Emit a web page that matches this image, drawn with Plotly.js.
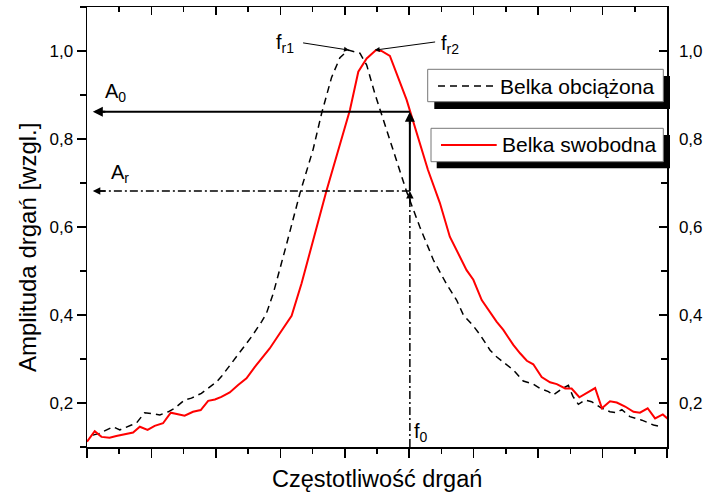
<!DOCTYPE html>
<html>
<head>
<meta charset="utf-8">
<script src="https://cdn.plot.ly/plotly-3.0.1.min.js"></script>
<style>html,body{margin:0;padding:0;background:#fff;}#chart{width:705px;height:494px;}</style>
</head>
<body>
<div id="chart"></div>
<script>
// Belka swobodna (red, solid)
const freeX = [0.00,0.24,0.45,0.70,0.91,1.27,1.43,1.64,1.88,2.10,2.36,2.60,2.83,3.03,3.29,3.53,3.76,3.97,4.17,4.43,4.69,4.95,5.21,5.42,5.67,5.98,6.35,6.66,7.43,8.16,8.42,8.68,8.97,9.14,9.40,9.92,10.58,10.95,11.26,11.78,11.99,12.25,12.71,12.92,13.23,13.44,13.65,13.85,14.11,14.37,14.58,14.84,15.04,15.28,15.77,15.98,16.23,16.44,16.70,16.96,17.16,17.40,17.63,17.87,18.07];
const freeY = [0.112,0.136,0.123,0.121,0.125,0.130,0.133,0.146,0.139,0.148,0.154,0.178,0.174,0.171,0.180,0.184,0.205,0.208,0.214,0.224,0.241,0.256,0.282,0.302,0.324,0.358,0.398,0.472,0.682,0.866,0.953,0.983,1.002,1.000,0.989,0.889,0.730,0.655,0.578,0.502,0.480,0.434,0.385,0.366,0.332,0.313,0.296,0.288,0.259,0.247,0.243,0.233,0.233,0.213,0.234,0.188,0.204,0.201,0.192,0.180,0.178,0.188,0.165,0.174,0.161];
// Belka obciążona (black, dashed)
const loadX = [0.18,0.39,0.81,1.02,1.38,1.53,1.79,2.05,2.26,2.52,2.72,3.03,3.24,3.55,3.76,4.02,4.17,4.48,4.84,5.11,5.42,5.57,5.78,5.98,6.19,6.61,7.02,7.28,7.59,7.85,8.11,8.47,8.68,8.93,9.30,9.61,9.92,10.33,10.75,11.16,11.47,11.68,11.99,12.20,12.51,12.71,13.02,13.23,13.54,13.85,14.06,14.32,14.47,14.73,14.94,15.08,15.25,15.46,15.66,15.98,16.23,16.44,16.60,16.85,17.22,17.58,17.84];
const loadY = [0.127,0.131,0.146,0.139,0.150,0.154,0.178,0.175,0.173,0.180,0.188,0.207,0.211,0.222,0.233,0.248,0.260,0.290,0.324,0.351,0.385,0.404,0.449,0.506,0.560,0.677,0.777,0.858,0.940,0.985,1.002,0.995,0.968,0.904,0.820,0.745,0.680,0.600,0.525,0.470,0.434,0.400,0.375,0.355,0.320,0.305,0.288,0.275,0.250,0.243,0.233,0.226,0.218,0.232,0.240,0.215,0.197,0.207,0.203,0.188,0.180,0.178,0.185,0.169,0.161,0.150,0.146];

const seriesNames = ['Belka obciążona', 'Belka swobodna'];
const yTickVals = [0.2, 0.4, 0.6, 0.8, 1.0];

// marker values for the annotation lines
const f0 = 10.02;      // reference frequency f0
const A0 = 0.862;      // amplitude A0
const Ar = 0.682;      // amplitude Ar
const arrowLeftX = 0.18;
const yMin = 0.1;

const FONT = 'Liberation Sans, Arial, sans-serif';

const traces = [
  {x: loadX, y: loadY, type: 'scatter', mode: 'lines', name: seriesNames[0],
   line: {color: '#000', width: 1.5, dash: '7px,5px'}, showlegend: false, hoverinfo: 'skip'},
  {x: freeX, y: freeY, type: 'scatter', mode: 'lines', name: seriesNames[1],
   line: {color: '#ff0000', width: 2}, showlegend: false, hoverinfo: 'skip'},
  {x: [], y: [], xaxis: 'x2', yaxis: 'y2', type: 'scatter', mode: 'lines', showlegend: false, hoverinfo: 'skip'}
];

function px(x){return (x-87)/580;}
function py(y){return (447-y)/440;}

const shapes = [
  {type:'line', xref:'x', yref:'y', x0:f0, x1:arrowLeftX+0.15, y0:A0, y1:A0, line:{color:'#000', width:2}},
  {type:'line', xref:'x', yref:'y', x0:f0, x1:f0, y0:Ar, y1:A0-0.015, line:{color:'#000', width:2}},
  {type:'line', xref:'x', yref:'y', x0:f0, x1:arrowLeftX+0.15, y0:Ar, y1:Ar, line:{color:'#000', width:1.5, dash:'8px,3px,2px,3px'}},
  {type:'line', xref:'x', yref:'y', x0:f0, x1:f0, y0:yMin, y1:Ar-0.015, line:{color:'#000', width:1.5, dash:'8px,3px,2px,3px'}},
  {type:'rect', xref:'paper', yref:'paper', x0:px(434.3), x1:px(670), y0:py(109), y1:py(76), fillcolor:'#000', line:{width:0}},
  {type:'rect', xref:'paper', yref:'paper', x0:px(427.7), x1:px(663.3), y0:py(101.7), y1:py(69.3), fillcolor:'#fff', line:{color:'#777', width:1}},
  {type:'line', xref:'paper', yref:'paper', x0:px(438), x1:px(493), y0:py(86), y1:py(86), line:{color:'#000', width:1.5, dash:'7px,5px'}},
  {type:'rect', xref:'paper', yref:'paper', x0:px(436.7), x1:px(670), y0:py(168.3), y1:py(135), fillcolor:'#000', line:{width:0}},
  {type:'rect', xref:'paper', yref:'paper', x0:px(431), x1:px(663.3), y0:py(161.7), y1:py(128.3), fillcolor:'#fff', line:{color:'#777', width:1}},
  {type:'line', xref:'paper', yref:'paper', x0:px(441), x1:px(496.7), y0:py(145), y1:py(145), line:{color:'#ff0000', width:2}}
];

const arrowCommon = {text:'', showarrow:true, arrowhead:2, arrowsize:1, arrowcolor:'#000', axref:'pixel', ayref:'pixel'};
const annotations = [
  Object.assign({}, arrowCommon, {xref:'x', yref:'y', x:arrowLeftX, y:A0, ax:14, ay:0, arrowwidth:2}),
  Object.assign({}, arrowCommon, {xref:'x', yref:'y', x:f0, y:A0, ax:0, ay:14, arrowwidth:2}),
  Object.assign({}, arrowCommon, {xref:'x', yref:'y', x:arrowLeftX, y:Ar, ax:14, ay:0, arrowwidth:1.5}),
  Object.assign({}, arrowCommon, {xref:'x', yref:'y', x:f0, y:Ar, ax:0, ay:14, arrowwidth:1.5}),
  {text:'', showarrow:true, arrowhead:2, arrowsize:1, arrowwidth:1, arrowcolor:'#000', xref:'x', yref:'y', x:8.13, y:1.002, axref:'x', ayref:'y', ax:6.66, ay:1.019},
  {text:'', showarrow:true, arrowhead:2, arrowsize:1, arrowwidth:1, arrowcolor:'#000', xref:'x', yref:'y', x:8.93, y:1.002, axref:'x', ayref:'y', ax:10.85, ay:1.021},
  {text:'f<sub>r1</sub>', showarrow:false, xref:'x', yref:'y', x:6.15, y:1.016, xanchor:'center', yanchor:'middle', font:{family:FONT, size:20, color:'#000'}},
  {text:'f<sub>r2</sub>', showarrow:false, xref:'x', yref:'y', x:11.25, y:1.014, xanchor:'center', yanchor:'middle', font:{family:FONT, size:20, color:'#000'}},
  {text:'A<sub>0</sub>', showarrow:false, xref:'x', yref:'y', x:0.88, y:0.905, xanchor:'center', yanchor:'middle', font:{family:FONT, size:20, color:'#000'}},
  {text:'A<sub>r</sub>', showarrow:false, xref:'x', yref:'y', x:1.02, y:0.721, xanchor:'center', yanchor:'middle', font:{family:FONT, size:20, color:'#000'}},
  {text:'f<sub>0</sub>', showarrow:false, xref:'x', yref:'y', x:10.38, y:0.134, xanchor:'center', yanchor:'middle', font:{family:FONT, size:20, color:'#000'}},
  {text:seriesNames[0], showarrow:false, xref:'paper', yref:'paper', x:px(498), y:py(86), xanchor:'left', yanchor:'middle', font:{family:FONT, size:21, color:'#000'}},
  {text:seriesNames[1], showarrow:false, xref:'paper', yref:'paper', x:px(500), y:py(145), xanchor:'left', yanchor:'middle', font:{family:FONT, size:21, color:'#000'}},
  {text:'Amplituda drgań [wzgl.]', showarrow:false, xref:'paper', yref:'paper', x:px(27), y:py(248), textangle:-90, xanchor:'center', yanchor:'middle', font:{family:FONT, size:24, color:'#000'}},
  {text:'Częstotliwość drgań', showarrow:false, xref:'paper', yref:'paper', x:px(377), y:py(479), xanchor:'center', yanchor:'middle', font:{family:FONT, size:23.5, color:'#000'}}
];

const layout = {
  width: 705, height: 494,
  margin: {l: 87, r: 38, t: 7, b: 47, pad: 0},
  paper_bgcolor: '#fff', plot_bgcolor: '#fff',
  separators: ', ',
  showlegend: false,
  font: {family: FONT, size: 17, color: '#000'},
  xaxis: {range: [0, 18], dtick: 2, tick0: 0, showticklabels: false, showgrid: false, zeroline: false,
          showline: true, linecolor: '#000', linewidth: 1.5, ticks: 'outside', ticklen: 9, tickwidth: 1.5, tickcolor: '#000',
          minor: {dtick: 1, ticks: 'outside', ticklen: 5, tickwidth: 1.5, tickcolor: '#000', showgrid: false}},
  xaxis2: {overlaying: 'x', side: 'top', range: [0, 18], dtick: 2, tick0: 0, showticklabels: false, showgrid: false, zeroline: false,
           showline: true, linecolor: '#000', linewidth: 1.5, ticks: 'inside', ticklen: 8, tickwidth: 1.5, tickcolor: '#000',
           minor: {dtick: 1, ticks: 'inside', ticklen: 5, tickwidth: 1.5, tickcolor: '#000', showgrid: false}},
  yaxis: {range: [0.1, 1.1], tickvals: yTickVals, tickformat: '.1f', showgrid: false, zeroline: false,
          showline: true, linecolor: '#000', linewidth: 1.5, ticks: 'outside', ticklen: 9, tickwidth: 1.5, tickcolor: '#000',
          tickfont: {family: FONT, size: 17, color: '#000'},
          minor: {dtick: 0.1, tick0: 0.1, ticks: 'outside', ticklen: 6, tickwidth: 1.5, tickcolor: '#000', showgrid: false}},
  yaxis2: {overlaying: 'y', side: 'right', range: [0.1, 1.1], tickvals: yTickVals, tickformat: '.1f', showgrid: false, zeroline: false,
           showline: true, linecolor: '#000', linewidth: 1.5, ticks: 'inside', ticklen: 8, tickwidth: 1.5, tickcolor: '#000',
           ticklabelstandoff: 7, tickfont: {family: FONT, size: 17, color: '#000'},
           minor: {dtick: 0.1, tick0: 0.1, ticks: 'inside', ticklen: 6, tickwidth: 1.5, tickcolor: '#000', showgrid: false}},
  shapes: shapes,
  annotations: annotations
};

Plotly.newPlot('chart', traces, layout, {staticPlot: true, displayModeBar: false});
</script>
</body>
</html>
